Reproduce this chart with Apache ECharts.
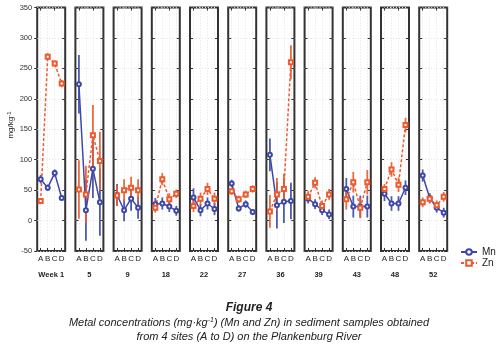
<!DOCTYPE html>
<html>
<head>
<meta charset="utf-8">
<script src="https://cdn.jsdelivr.net/npm/echarts@6/dist/echarts.min.js"></script>
<style>
html,body{margin:0;padding:0;background:#fff;}
#c{width:498px;height:347px;}
</style>
</head>
<body>
<div id="c"></div>
<script>
const weeks = ['Week 1','5','9','18','22','27','36','39','43','48','52'];
const sites = ['A','B','C','D'];
const yTicks = {min: -50, max: 350, interval: 50};

const mnMean = [
  [68, 54, 78, 37],
  [224, 17, 85, 30],
  [42, 17, 36, 21],
  [27, 28, 23, 16],
  [38, 17, 28, 19],
  [61, 20, 27, 14],
  [108, 25, 31, 32],
  [36, 27, 17, 10],
  [52, 23, 23, 23],
  [44, 28, 28, 54],
  [74, 37, 21, 13]
];
const mnErr = [
  [7, 5, 6, 4],
  [48, 50, 48, 55],
  [18, 18, 20, 18],
  [10, 10, 9, 8],
  [15, 10, 10, 10],
  [6, 5, 6, 5],
  [27, 38, 35, 30],
  [8, 8, 8, 8],
  [18, 18, 18, 18],
  [12, 12, 12, 12],
  [10, 8, 8, 8]
];
const znMean = [
  [32, 269, 258, 225],
  [51, 43, 140, 98],
  [41, 50, 54, 50],
  [21, 68, 35, 44],
  [24, 36, 52, 36],
  [48, 35, 43, 52],
  [15, 43, 52, 260],
  [39, 62, 24, 43],
  [35, 63, 21, 63],
  [52, 84, 59, 157],
  [30, 36, 25, 39]
];
const znErr = [
  [5, 6, 5, 6],
  [48, 47, 50, 48],
  [17, 18, 18, 18],
  [8, 10, 10, 7],
  [10, 10, 10, 10],
  [6, 6, 6, 6],
  [27, 27, 25, 28],
  [9, 9, 9, 9],
  [17, 17, 17, 20],
  [8, 12, 12, 12],
  [8, 8, 8, 8]
];

const MN = '#3d48a6';
const ZN = '#ec5a2e';
const FONT = 'Liberation Sans, Arial, sans-serif';

const chart = echarts.init(document.getElementById('c'), null, {renderer: 'canvas'});

const grids = [], xAxes = [], yAxes = [], series = [];
const L0 = 37.2, PITCH = 38.2, W = 28, TOP = 7.5, H = 243.5;

function errRender(color) {
  return function (params, api) {
    const x = api.value(0);
    const lo = api.coord([x, api.value(1)]);
    const hi = api.coord([x, api.value(2)]);
    return {
      type: 'line',
      shape: {x1: lo[0], y1: lo[1], x2: hi[0], y2: hi[1]},
      style: {stroke: color, lineWidth: 1.8, opacity: 0.9}
    };
  };
}

weeks.forEach((wk, i) => {
  grids.push({
    left: L0 + i * PITCH, top: TOP, width: W, height: H,
    show: true, borderColor: '#333', borderWidth: 2, backgroundColor: '#fff'
  });
  xAxes.push({
    gridIndex: i, type: 'category', data: sites, boundaryGap: true, position: 'bottom',
    axisLine: {show: false, onZero: false},
    axisTick: {show: true, inside: true, alignWithLabel: true, length: 3, lineStyle: {color: '#333'}},
    axisLabel: {show: true, fontSize: 8, color: '#222', fontFamily: FONT, margin: 4, interval: 0},
    splitLine: {show: true, alignWithLabel: true, lineStyle: {color: '#e2e2e2', type: [1, 2], width: 1}},
    name: wk, nameLocation: 'middle', nameGap: 20,
    nameTextStyle: {fontSize: 7.5, color: '#222', fontFamily: FONT, fontWeight: 'bold'}
  });
  xAxes.push({
    gridIndex: i, type: 'category', data: sites, boundaryGap: true, position: 'top',
    axisLine: {show: false, onZero: false},
    axisTick: {show: true, inside: true, alignWithLabel: true, length: 3, lineStyle: {color: '#333'}},
    axisLabel: {show: false}, splitLine: {show: false}
  });
  yAxes.push({
    gridIndex: i, type: 'value', min: yTicks.min, max: yTicks.max, interval: yTicks.interval, position: 'left',
    axisLine: {show: false, onZero: false},
    axisTick: {show: true, inside: i !== 0, length: 3, lineStyle: {color: '#333'}},
    axisLabel: {show: i === 0, fontSize: 7.5, color: '#333', fontFamily: FONT, margin: 5},
    splitLine: {show: true, lineStyle: {color: '#e2e2e2', type: [1, 2], width: 1}}
  });
  yAxes.push({
    gridIndex: i, type: 'value', min: yTicks.min, max: yTicks.max, interval: yTicks.interval, position: 'right',
    axisLine: {show: false, onZero: false},
    axisTick: {show: true, inside: true, length: 3, lineStyle: {color: '#333'}},
    axisLabel: {show: false}, splitLine: {show: false}
  });
  const xb = i * 2, yl = i * 2;
  series.push({
    type: 'custom', xAxisIndex: xb, yAxisIndex: yl, silent: true, z: 3,
    renderItem: errRender(MN), encode: {x: 0, y: [1, 2]},
    data: mnMean[i].map((v, k) => [k, v - mnErr[i][k], v + mnErr[i][k]])
  });
  series.push({
    type: 'custom', xAxisIndex: xb, yAxisIndex: yl, silent: true, z: 3,
    renderItem: errRender(ZN), encode: {x: 0, y: [1, 2]},
    data: znMean[i].map((v, k) => [k, v - znErr[i][k], v + znErr[i][k]])
  });
  series.push({
    name: 'Mn', type: 'line', xAxisIndex: xb, yAxisIndex: yl, z: 4,
    data: mnMean[i], symbol: 'emptyCircle', symbolSize: 4, showSymbol: true,
    itemStyle: {color: MN, borderWidth: 1},
    lineStyle: {color: MN, width: 1.5, type: 'solid'}, animation: false
  });
  series.push({
    name: 'Zn', type: 'line', xAxisIndex: xb, yAxisIndex: yl, z: 4,
    data: znMean[i], symbol: 'emptyRect', symbolSize: 4, showSymbol: true,
    itemStyle: {color: ZN, borderWidth: 1},
    lineStyle: {color: ZN, width: 1.5, type: [3, 2]}, animation: false
  });
});

chart.setOption({
  animation: false,
  backgroundColor: '#fff',
  grid: grids,
  xAxis: xAxes,
  yAxis: yAxes,
  legend: {
    data: ['Mn', 'Zn'], orient: 'vertical', left: 455, top: 242,
    itemWidth: 16, itemHeight: 7, itemGap: 1,
    textStyle: {fontSize: 10, color: '#222', fontFamily: FONT, lineHeight: 10}
  },
  series: series,
  graphic: [
    {type: 'text', x: 11, y: 125, rotation: Math.PI / 2,
     style: {text: '{a|mg/kg}{s|-1}', align: 'center', verticalAlign: 'middle',
       rich: {a: {font: '8px ' + FONT, fill: '#222'},
              s: {font: '6px ' + FONT, fill: '#222', verticalAlign: 'top', padding: [0, 0, 4, 0]}}}},
    {type: 'text', left: 'center', top: 302,
     style: {text: 'Figure 4', font: 'italic bold 12px ' + FONT, fill: '#222'}},
    {type: 'text', left: 'center', top: 317,
     style: {text: '{i|Metal concentrations (mg·kg}{s|-1}{i|) (Mn and Zn) in sediment samples obtained}',
       rich: {i: {font: 'italic 11px ' + FONT, fill: '#222'},
              s: {font: 'italic 7px ' + FONT, fill: '#222', verticalAlign: 'top', padding: [0, 0, 4, 0]}}}},
    {type: 'text', left: 'center', top: 331,
     style: {text: 'from 4 sites (A to D) on the Plankenburg River', font: 'italic 11px ' + FONT, fill: '#222'}}
  ]
});
</script>
</body>
</html>
